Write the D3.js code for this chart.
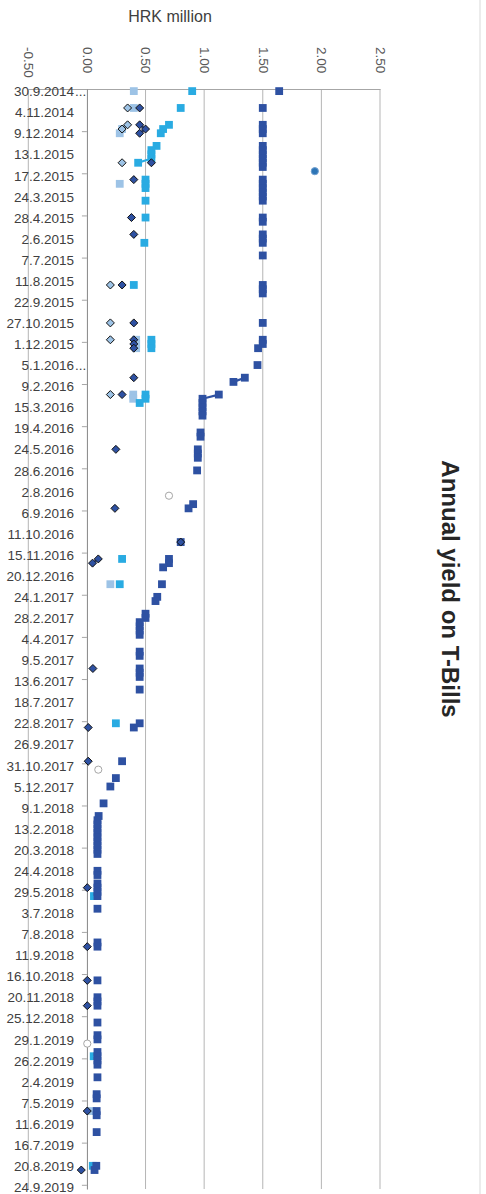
<!DOCTYPE html>
<html>
<head>
<meta charset="utf-8">
<script src="https://cdn.jsdelivr.net/npm/d3@7"></script>
<style>
  body { margin: 0; background: #fff; }
  svg { display: block; font-family: "Liberation Sans", Arial, sans-serif; }
</style>
</head>
<body>
<div id="chart"></div>
<script>
// category labels (every 5th auction date), index = 5 * position
var catLabels = ["30.9.2014...", "4.11.2014", "9.12.2014", "13.1.2015", "17.2.2015", "24.3.2015",
  "28.4.2015", "2.6.2015", "7.7.2015", "11.8.2015", "22.9.2015", "27.10.2015", "1.12.2015",
  "5.1.2016...", "9.2.2016", "15.3.2016", "19.4.2016", "24.5.2016", "28.6.2016", "2.8.2016",
  "6.9.2016", "11.10.2016", "15.11.2016", "20.12.2016", "24.1.2017", "28.2.2017", "4.4.2017",
  "9.5.2017", "13.6.2017", "18.7.2017", "22.8.2017", "26.9.2017", "31.10.2017", "5.12.2017",
  "9.1.2018", "13.2.2018", "20.3.2018", "24.4.2018", "29.5.2018", "3.7.2018", "7.8.2018",
  "11.9.2018", "16.10.2018", "20.11.2018", "25.12.2018", "29.1.2019", "26.2.2019", "2.4.2019",
  "7.5.2019", "11.6.2019", "16.7.2019", "20.8.2019", "24.9.2019"];
var nCats = 261;
var labelStep = 5;
var tickStep = 10;
var valueTicks = [-0.5, 0, 0.5, 1, 1.5, 2, 2.5];

// series: [category index, yield]
var darkSquares = [[0,1.64],[4,1.50],[8,1.50],[9,1.50],[10,1.50],[13,1.50],[14,1.50],[15,1.50],[16,1.50],[17,1.50],[18,1.50],
  [21,1.50],[22,1.50],[23,1.50],[24,1.50],[25,1.50],[26,1.50],[30,1.50],[31,1.50],[34,1.50],[35,1.50],[36,1.50],
  [39,1.50],[46,1.50],[47,1.50],[48,1.50],[55,1.50],[59,1.50],[60,1.50],[61,1.46],[65,1.455],[68,1.347],[69,1.25],
  [72,1.125],[73,0.986],[74,0.986],[75,0.986],[76,0.986],[77,0.986],[81,0.969],[82,0.969],[85,0.946],[86,0.946],[87,0.946],
  [90,0.94],[98,0.906],[99,0.867],[107,0.80],[111,0.70],[112,0.70],[113,0.65],[117,0.64],[120,0.60],[121,0.585],
  [124,0.50],[125,0.50],[126,0.45],[127,0.45],[128,0.45],[129,0.45],[133,0.45],[134,0.45],[137,0.45],[138,0.45],[139,0.45],
  [142,0.45],[150,0.45],[151,0.40],[159,0.30],[163,0.247],[165,0.20],[169,0.142],[172,0.10],
  [173,0.09],[174,0.09],[175,0.09],[176,0.09],[177,0.09],[178,0.09],[179,0.09],[180,0.09],[181,0.09],
  [185,0.09],[186,0.09],[188,0.09],[189,0.09],[190,0.09],[191,0.09],[194,0.09],[202,0.09],[203,0.09],[211,0.09],
  [215,0.09],[216,0.09],[217,0.09],[221,0.09],[224,0.09],[225,0.09],[228,0.09],[229,0.09],[230,0.09],[231,0.09],
  [234,0.09],[238,0.083],[239,0.083],[242,0.083],[243,0.083],[247,0.083],[255,0.08],[256,0.065]];

var cyanSquares = [[0,0.898],[4,0.80],[8,0.70],[9,0.65],[10,0.63],[13,0.594],[14,0.55],[15,0.55],[16,0.55],[17,0.437],
  [21,0.50],[22,0.50],[23,0.50],[26,0.50],[30,0.50],[36,0.49],[46,0.40],[59,0.55],[60,0.55],[61,0.55],
  [72,0.50],[73,0.50],[74,0.45],[111,0.30],[117,0.28],[150,0.247],[191,0.06],[229,0.058],[255,0.05]];

var paleSquares = [[0,0.40],[4,0.40],[9,0.30],[10,0.28],[22,0.28],[59,0.42],[60,0.42],[61,0.42],
  [72,0.395],[73,0.395],[117,0.20],[242,0.04]];

var darkDiamonds = [[4,0.45],[8,0.45],[9,0.50],[10,0.45],[17,0.55],[21,0.40],[30,0.38],[34,0.40],[46,0.30],
  [55,0.40],[59,0.40],[60,0.40],[61,0.40],[68,0.40],[72,0.30],[85,0.247],[99,0.239],[107,0.80],[111,0.097],
  [112,0.048],[137,0.051],[151,0.011],[159,0.011],[189,0.003],[203,0.003],[211,0.003],[217,0.003],[242,0.003],[256,-0.048]];

var paleDiamonds = [[4,0.347],[8,0.347],[9,0.30],[17,0.30],[46,0.20],[55,0.20],[59,0.20],[72,0.20]];

var openCircles = [[96,0.70],[161,0.097],[226,0.003]];
var blueDots = [[19,1.944]];

var width = 486, height = 1194;

var svg = d3.select("#chart").append("svg")
    .attr("width", width)
    .attr("height", height);

var y = d3.scaleLinear().domain([-0.5, nCats - 0.5]).range([89, 1189]);
var x = d3.scaleLinear().domain([-0.5, 2.5]).range([28.3, 380]);

// outer border on the right
svg.append("line")
    .attr("x1", 480).attr("x2", 480).attr("y1", 0).attr("y2", height)
    .attr("stroke", "#d9d9d9");

// vertical gridlines
svg.append("g").selectAll("line")
    .data(valueTicks.filter(function(d) { return d !== 0; }))
  .join("line")
    .attr("x1", function(d) { return x(d); })
    .attr("x2", function(d) { return x(d); })
    .attr("y1", y.range()[0]).attr("y2", y.range()[1])
    .attr("stroke", "#b5b5b5");

// value axis on top, labels rotated
var topAxis = svg.append("g")
    .attr("transform", "translate(0," + y.range()[0] + ")")
    .call(d3.axisTop(x).tickValues(valueTicks).tickSize(0).tickPadding(0)
        .tickFormat(function(d) { return d.toFixed(2); }));
topAxis.select(".domain").attr("stroke", "#a6a6a6");
topAxis.selectAll("text")
    .attr("transform", "translate(0,-42) rotate(90)")
    .attr("x", 0).attr("y", 0).attr("dy", "0.35em")
    .attr("text-anchor", "start")
    .attr("fill", "#595959")
    .style("font-size", "13.5px");

// category axis at value 0
var catAxis = svg.append("g")
    .attr("transform", "translate(" + x(0) + ",0)")
    .call(d3.axisLeft(y)
        .tickValues(d3.range(0, nCats + 1, tickStep).map(function(d) { return d - 0.5; }))
        .tickSize(5).tickSizeOuter(0).tickFormat(""));
catAxis.select(".domain").attr("stroke", "#868686");
catAxis.selectAll(".tick line").attr("stroke", "#a6a6a6");

// category labels
var labelX = 74;
var labG = svg.append("g")
    .attr("fill", "#404040")
    .style("font-size", "13.5px");
labG.selectAll("text.base")
    .data(catLabels)
  .join("text")
    .attr("class", "base")
    .attr("x", labelX)
    .attr("y", function(d, k) { return y(k * labelStep); })
    .attr("dy", "0.38em")
    .attr("text-anchor", "end")
    .text(function(d) { return d.replace("...", ""); });
labG.selectAll("text.cut")
    .data(catLabels.map(function(d, k) { return [d, k]; })
        .filter(function(d) { return d[0].indexOf("...") > 0; }))
  .join("text")
    .attr("class", "cut")
    .attr("x", labelX + 1)
    .attr("y", function(d) { return y(d[1] * labelStep); })
    .attr("dy", "0.38em")
    .text("...");

// connecting lines between consecutive auctions
function drawLine(data, color) {
    var byIdx = new Map(data);
    var full = d3.range(nCats).map(function(i) {
        return byIdx.has(i) ? [i, byIdx.get(i)] : null;
    });
    var line = d3.line()
        .defined(function(d) { return d !== null; })
        .x(function(d) { return x(d[1]); })
        .y(function(d) { return y(d[0]); });
    svg.append("path")
        .attr("d", line(full))
        .attr("fill", "none")
        .attr("stroke", color)
        .attr("stroke-width", 2.25);
}

function drawSquares(data, color) {
    var s = 7.8;
    svg.append("g").selectAll("rect")
        .data(data)
      .join("rect")
        .attr("x", function(d) { return x(d[1]) - s / 2; })
        .attr("y", function(d) { return y(d[0]) - s / 2; })
        .attr("width", s).attr("height", s)
        .attr("fill", color);
}

function drawDiamonds(data, color) {
    var r = 4;
    svg.append("g").selectAll("path")
        .data(data)
      .join("path")
        .attr("d", "M0," + (-r) + "L" + r + ",0L0," + r + "L" + (-r) + ",0Z")
        .attr("transform", function(d) { return "translate(" + x(d[1]) + "," + y(d[0]) + ")"; })
        .attr("fill", color)
        .attr("stroke", "#111")
        .attr("stroke-width", 1);
}

function drawCircles(data, fill, stroke) {
    svg.append("g").selectAll("circle")
        .data(data)
      .join("circle")
        .attr("cx", function(d) { return x(d[1]); })
        .attr("cy", function(d) { return y(d[0]); })
        .attr("r", 3.6)
        .attr("fill", fill)
        .attr("stroke", stroke)
        .attr("stroke-width", 1);
}

var cDark = "#2e51a2", cCyan = "#29abe2", cPale = "#9dc3e6";

drawLine(paleSquares, cPale);
drawSquares(paleSquares, cPale);
drawLine(cyanSquares, cCyan);
drawSquares(cyanSquares, cCyan);
drawLine(darkSquares, cDark);
drawSquares(darkSquares, cDark);
drawLine(paleDiamonds, cPale);
drawDiamonds(paleDiamonds, cPale);
drawLine(darkDiamonds, cDark);
drawDiamonds(darkDiamonds, cDark);
drawCircles(openCircles, "#fff", "#a6a6a6");
drawCircles(blueDots, "#2e75b6", "#6f9fd0");

// titles
svg.append("text")
    .attr("x", 170).attr("y", 22)
    .attr("text-anchor", "middle")
    .attr("fill", "#404040")
    .style("font-size", "16px")
    .text("HRK million");

svg.append("text")
    .attr("transform", "translate(442,589) rotate(90)")
    .attr("text-anchor", "middle")
    .attr("fill", "#262626")
    .style("font-size", "24px")
    .style("font-weight", "bold")
    .text("Annual yield on T-Bills");
</script>
</body>
</html>
